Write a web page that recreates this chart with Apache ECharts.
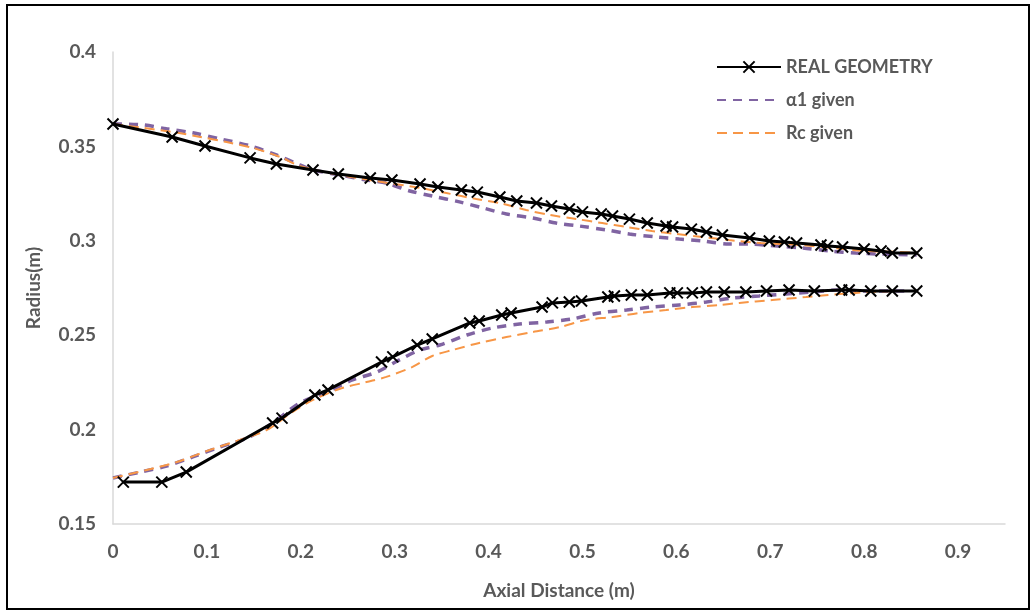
<!DOCTYPE html>
<html>
<head>
<meta charset="utf-8">
<script src="https://cdn.jsdelivr.net/npm/echarts@6/dist/echarts.min.js"></script>
<style>html,body{margin:0;padding:0;background:#fff;}#c{width:1033px;height:612px;}</style>
</head>
<body>
<div id="c"></div>
<script>
// ---- data ----
var xTicks = [0, 0.1, 0.2, 0.3, 0.4, 0.5, 0.6, 0.7, 0.8, 0.9];
var yTicks = [0.15, 0.2, 0.25, 0.3, 0.35, 0.4];
var seriesNames = ['REAL GEOMETRY', 'α1 given', 'Rc given'];

var realUpper = [
  [0.000,0.3619],[0.063,0.3550],[0.098,0.3502],[0.146,0.3439],[0.174,0.3407],[0.213,0.3375],
  [0.240,0.3354],[0.274,0.3333],[0.297,0.3322],[0.327,0.3301],[0.346,0.3285],[0.371,0.3269],
  [0.388,0.3258],[0.412,0.3232],[0.430,0.3211],[0.451,0.3200],[0.467,0.3184],[0.486,0.3168],
  [0.500,0.3153],[0.520,0.3142],[0.532,0.3131],[0.550,0.3115],[0.569,0.3094],[0.589,0.3078],
  [0.596,0.3073],[0.616,0.3062],[0.632,0.3047],[0.649,0.3031],[0.678,0.3015],[0.699,0.2999],
  [0.715,0.2994],[0.728,0.2988],[0.754,0.2978],[0.761,0.2972],[0.777,0.2967],[0.800,0.2957],
  [0.818,0.2946],[0.830,0.2935],[0.856,0.2935]
];
var realLower = [
  [0.011,0.1722],[0.052,0.1722],[0.078,0.1775],[0.170,0.2035],[0.180,0.2061],[0.215,0.2183],
  [0.229,0.2210],[0.286,0.2358],[0.298,0.2385],[0.324,0.2448],[0.340,0.2480],[0.380,0.2565],
  [0.390,0.2575],[0.414,0.2607],[0.424,0.2618],[0.457,0.2649],[0.468,0.2671],[0.486,0.2676],
  [0.499,0.2681],[0.527,0.2702],[0.534,0.2708],[0.552,0.2713],[0.569,0.2713],[0.593,0.2724],
  [0.601,0.2724],[0.617,0.2724],[0.632,0.2729],[0.651,0.2729],[0.674,0.2729],[0.696,0.2734],
  [0.720,0.2739],[0.747,0.2734],[0.776,0.2739],[0.784,0.2739],[0.807,0.2734],[0.830,0.2734],
  [0.856,0.2734]
];
var alphaUpper = [
  [0.000,0.3619],[0.032,0.3614],[0.057,0.3593],[0.085,0.3572],[0.114,0.3540],[0.146,0.3503],
  [0.174,0.3455],[0.199,0.3402],[0.213,0.3375],[0.241,0.3349],[0.270,0.3322],[0.291,0.3306],
  [0.316,0.3264],[0.340,0.3237],[0.369,0.3206],[0.394,0.3174],[0.419,0.3142],[0.447,0.3121],
  [0.472,0.3094],[0.497,0.3078],[0.526,0.3057],[0.550,0.3036],[0.579,0.3020],[0.603,0.3009],
  [0.628,0.2999],[0.656,0.2983],[0.676,0.2983],[0.708,0.2972],[0.734,0.2962],[0.763,0.2946],
  [0.791,0.2935],[0.816,0.2930],[0.856,0.2925]
];
var alphaLower = [
  [0.000,0.1744],[0.029,0.1775],[0.057,0.1807],[0.085,0.1855],[0.114,0.1908],[0.143,0.1956],
  [0.170,0.2035],[0.199,0.2141],[0.228,0.2199],[0.255,0.2263],[0.281,0.2305],[0.305,0.2369],
  [0.327,0.2422],[0.348,0.2448],[0.377,0.2501],[0.404,0.2538],[0.433,0.2559],[0.462,0.2570],
  [0.489,0.2586],[0.518,0.2618],[0.547,0.2633],[0.574,0.2649],[0.603,0.2660],[0.632,0.2676],
  [0.660,0.2697],[0.688,0.2708],[0.717,0.2718],[0.745,0.2729],[0.773,0.2739],[0.805,0.2734],
  [0.843,0.2734]
];
var rcUpper = [
  [0.000,0.3619],[0.032,0.3598],[0.064,0.3576],[0.093,0.3550],[0.121,0.3523],[0.149,0.3492],
  [0.178,0.3444],[0.199,0.3396],[0.231,0.3359],[0.273,0.3322],[0.327,0.3280],[0.355,0.3253],
  [0.387,0.3221],[0.412,0.3200],[0.440,0.3163],[0.465,0.3137],[0.494,0.3115],[0.521,0.3094],
  [0.547,0.3073],[0.574,0.3052],[0.600,0.3036],[0.628,0.3020],[0.656,0.3004],[0.690,0.2988],
  [0.731,0.2978],[0.766,0.2962],[0.802,0.2946],[0.837,0.2941],[0.856,0.2935]
];
var rcLower = [
  [0.000,0.1744],[0.036,0.1786],[0.068,0.1828],[0.103,0.1892],[0.135,0.1945],[0.164,0.1998],
  [0.191,0.2093],[0.213,0.2157],[0.241,0.2215],[0.270,0.2252],[0.291,0.2279],[0.319,0.2332],
  [0.340,0.2390],[0.362,0.2422],[0.390,0.2459],[0.419,0.2490],[0.447,0.2517],[0.476,0.2543],
  [0.504,0.2581],[0.532,0.2596],[0.561,0.2618],[0.589,0.2633],[0.617,0.2649],[0.646,0.2660],
  [0.667,0.2671],[0.702,0.2686],[0.738,0.2702],[0.773,0.2718],[0.809,0.2729],[0.845,0.2734],
  [0.856,0.2734]
];

// ---- chart ----
var FONT = 'Lato';
var TXT = '#595959';
var crossPath = 'path://M0,0L10,10M10,0L0,10';

function realSeries(data) {
  return {
    name: seriesNames[0], type: 'line', data: data, z: 5,
    symbol: crossPath, symbolSize: 11, showSymbol: true,
    itemStyle: { color: '#000', borderColor: '#000', borderWidth: 2 },
    lineStyle: { color: '#000', width: 3, type: 'solid' },
    emphasis: { disabled: true }
  };
}
function dashSeries(idx, data, color, width, dash) {
  return {
    name: seriesNames[idx], type: 'line', data: data, z: idx === 1 ? 3 : 4,
    symbol: 'none', smooth: 0.3,
    itemStyle: { color: color },
    lineStyle: { color: color, width: width, type: dash },
    emphasis: { disabled: true }
  };
}

var chart = echarts.init(document.getElementById('c'));
chart.setOption({
  animation: false,
  backgroundColor: '#fff',
  graphic: [{
    type: 'rect', shape: { x: 7, y: 5, width: 1022, height: 604 },
    style: { fill: 'none', stroke: '#000', lineWidth: 2 }, silent: true, z: 0
  }],
  grid: { left: 113, top: 52, right: 28, bottom: 88, containLabel: false },
  legend: {
    orient: 'vertical', left: 711, top: 53,
    itemWidth: 64, itemHeight: 14, itemGap: 15,
    data: [
      { name: seriesNames[0] },
      { name: seriesNames[1], itemStyle: { opacity: 0 } },
      { name: seriesNames[2], itemStyle: { opacity: 0 } }
    ],
    textStyle: { fontFamily: FONT, fontWeight: 'bold', fontSize: 18, color: TXT }
  },
  xAxis: {
    type: 'value', min: 0, max: 0.95, interval: 0.1,
    name: 'Axial Distance (m)', nameLocation: 'middle', nameGap: 57,
    nameTextStyle: { fontFamily: FONT, fontWeight: 'bold', fontSize: 19, color: TXT },
    axisLine: { show: true, lineStyle: { color: '#d9d9d9', width: 1.5 } },
    axisTick: { show: false },
    splitLine: { show: false },
    axisLabel: {
      fontFamily: FONT, fontWeight: 'bold', fontSize: 19, color: TXT, margin: 18,
      showMaxLabel: true,
      formatter: function (v) {
        for (var i = 0; i < xTicks.length; i++) if (Math.abs(xTicks[i] - v) < 1e-9) return String(xTicks[i]);
        return '';
      }
    }
  },
  yAxis: {
    type: 'value', min: 0.15, max: 0.4, interval: 0.05,
    name: 'Radius(m)', nameLocation: 'middle', nameGap: 70, nameRotate: 90,
    nameTextStyle: { fontFamily: FONT, fontWeight: 'bold', fontSize: 19, color: TXT },
    axisLine: { show: true, lineStyle: { color: '#d9d9d9', width: 1.5 } },
    axisTick: { show: false },
    splitLine: { show: false },
    axisLabel: {
      fontFamily: FONT, fontWeight: 'bold', fontSize: 19, color: TXT, margin: 17,
      formatter: function (v) {
        for (var i = 0; i < yTicks.length; i++) if (Math.abs(yTicks[i] - v) < 1e-9) return String(yTicks[i]);
        return '';
      }
    }
  },
  series: [
    realSeries(realUpper),
    dashSeries(1, alphaUpper, '#8064A2', 3.5, [9, 7]),
    dashSeries(2, rcUpper, '#F79646', 2, [10, 6]),
    realSeries(realLower),
    dashSeries(1, alphaLower, '#8064A2', 3.5, [9, 7]),
    dashSeries(2, rcLower, '#F79646', 2, [10, 6])
  ]
});
</script>
</body>
</html>
